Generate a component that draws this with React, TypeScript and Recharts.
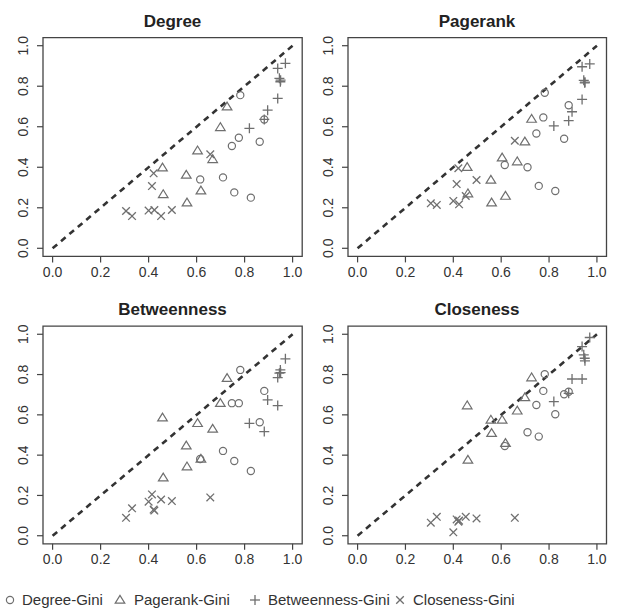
import React from 'react';
import { ScatterChart, Scatter, XAxis, YAxis, ReferenceLine, ReferenceArea } from 'recharts';

// shared x values (Gini) per series
const degreeX = [0.615, 0.710, 0.747, 0.757, 0.776, 0.782, 0.826, 0.863, 0.882];
const pagerankX = [0.458, 0.461, 0.557, 0.560, 0.604, 0.618, 0.667, 0.699, 0.727];
const betweenX = [0.820, 0.882, 0.896, 0.938, 0.938, 0.945, 0.949, 0.950, 0.970];
const closeX = [0.306, 0.331, 0.400, 0.414, 0.421, 0.424, 0.452, 0.497, 0.657];

// Degree panel
const degDegY = [0.340, 0.350, 0.505, 0.276, 0.546, 0.756, 0.250, 0.526, 0.636];
const degPrY = [0.398, 0.266, 0.362, 0.225, 0.482, 0.284, 0.439, 0.597, 0.699];
const degBtY = [0.592, 0.636, 0.682, 0.740, 0.888, 0.839, 0.822, 0.830, 0.913];
const degClY = [0.184, 0.159, 0.186, 0.307, 0.370, 0.189, 0.159, 0.189, 0.464];

// Pagerank panel
const prDegY = [0.411, 0.400, 0.567, 0.308, 0.646, 0.768, 0.283, 0.541, 0.706];
const prPrY = [0.400, 0.270, 0.337, 0.225, 0.447, 0.258, 0.428, 0.526, 0.638];
const prBtY = [0.604, 0.630, 0.674, 0.735, 0.896, 0.829, 0.817, 0.820, 0.910];
const prClY = [0.222, 0.214, 0.234, 0.317, 0.395, 0.217, 0.258, 0.337, 0.531];

// Betweenness panel
const btDegY = [0.381, 0.421, 0.658, 0.371, 0.658, 0.823, 0.321, 0.563, 0.719];
const btPrY = [0.586, 0.288, 0.447, 0.343, 0.558, 0.381, 0.530, 0.658, 0.782];
const btBtY = [0.558, 0.517, 0.674, 0.646, 0.785, 0.807, 0.823, 0.810, 0.878];
const btClY = [0.089, 0.136, 0.169, 0.205, 0.130, 0.125, 0.180, 0.172, 0.190];

// Closeness panel
const clDegY = [0.445, 0.514, 0.649, 0.492, 0.719, 0.802, 0.603, 0.702, 0.715];
const clPrY = [0.646, 0.376, 0.575, 0.509, 0.575, 0.459, 0.620, 0.686, 0.785];
const clBtY = [0.666, 0.707, 0.778, 0.778, 0.939, 0.898, 0.881, 0.868, 0.984];
const clClY = [0.065, 0.094, 0.017, 0.081, 0.070, 0.075, 0.094, 0.086, 0.089];

const ticks = [0, 0.2, 0.4, 0.6, 0.8, 1.0];
const legendLabels = ['Degree-Gini', 'Pagerank-Gini', 'Betweenness-Gini', 'Closeness-Gini'];

const FONT = '"Liberation Sans", Arial, Helvetica, sans-serif';
const GREY = '#6f6f6f';
const DARK = '#333333';
const AXIS = '#444444';

const zip = (xs: number[], ys: number[]) => xs.map((x, i) => ({ x, y: ys[i] }));

const CircleShape = (p: any) => (
  <circle cx={p.cx} cy={p.cy} r={3.6} fill="none" stroke={GREY} strokeWidth={1.2} />
);
const TriangleShape = (p: any) => {
  const { cx, cy } = p;
  return (
    <polygon
      points={`${cx},${cy - 4.6} ${cx - 4.8},${cy + 3.2} ${cx + 4.8},${cy + 3.2}`}
      fill="none"
      stroke={GREY}
      strokeWidth={1.2}
    />
  );
};
const PlusShape = (p: any) => {
  const { cx, cy } = p;
  const s = 5;
  return (
    <g stroke={GREY} strokeWidth={1.3}>
      <line x1={cx - s} y1={cy} x2={cx + s} y2={cy} />
      <line x1={cx} y1={cy - s} x2={cx} y2={cy + s} />
    </g>
  );
};
const CrossShape = (p: any) => {
  const { cx, cy } = p;
  const s = 3.8;
  return (
    <g stroke={GREY} strokeWidth={1.3}>
      <line x1={cx - s} y1={cy - s} x2={cx + s} y2={cy + s} />
      <line x1={cx - s} y1={cy + s} x2={cx + s} y2={cy - s} />
    </g>
  );
};

const XTick = (p: any) => (
  <text x={p.x} y={p.y} dy="0.9em" textAnchor="middle" fontSize={14} fill={DARK} fontFamily={FONT}>
    {Number(p.payload.value).toFixed(1)}
  </text>
);
const YTick = (p: any) => {
  const cx = p.x - 12.5;
  const cy = p.y;
  return (
    <text
      x={cx}
      y={cy}
      dy="0.36em"
      textAnchor="middle"
      fontSize={14}
      fill={DARK}
      fontFamily={FONT}
      transform={`rotate(-90, ${cx}, ${cy})`}
    >
      {Number(p.payload.value).toFixed(1)}
    </text>
  );
};

type PanelProps = {
  title: string;
  left: number;
  top: number;
  width: number;
  height: number;
  margin: { top: number; right: number; bottom: number; left: number };
  titleX: number;
  titleY: number;
  dY: number[];
  pY: number[];
  bY: number[];
  cY: number[];
};

const Panel = (pp: PanelProps) => (
  <>
    <div
      style={{
        position: 'absolute',
        left: pp.titleX - 100,
        top: pp.titleY - 11,
        width: 200,
        height: 22,
        lineHeight: '22px',
        textAlign: 'center',
        fontFamily: FONT,
        fontWeight: 'bold',
        fontSize: 17,
        color: '#222',
      }}
    >
      {pp.title}
    </div>
    <div style={{ position: 'absolute', left: pp.left, top: pp.top }}>
      <ScatterChart width={pp.width} height={pp.height} margin={pp.margin}>
        <XAxis
          type="number"
          dataKey="x"
          domain={[-0.04, 1.04]}
          ticks={ticks}
          interval={0}
          allowDataOverflow
          axisLine={false}
          tickLine={{ stroke: AXIS, strokeWidth: 1.2 }}
          tickSize={6}
          tickMargin={2}
          height={30}
          tick={<XTick />}
        />
        <YAxis
          type="number"
          dataKey="y"
          domain={[-0.04, 1.04]}
          ticks={ticks}
          interval={0}
          allowDataOverflow
          axisLine={false}
          tickLine={{ stroke: AXIS, strokeWidth: 1.2 }}
          tickSize={6}
          tickMargin={2}
          width={43}
          tick={<YTick />}
        />
        <ReferenceArea
          x1={-0.04}
          x2={1.04}
          y1={-0.04}
          y2={1.04}
          fill="none"
          stroke={AXIS}
          strokeWidth={1.3}
          ifOverflow="visible"
        />
        <ReferenceLine
          segment={[
            { x: 0, y: 0 },
            { x: 1, y: 1 },
          ]}
          stroke={DARK}
          strokeWidth={2.6}
          strokeDasharray="6 5"
          ifOverflow="visible"
        />
        <Scatter data={zip(degreeX, pp.dY)} shape={CircleShape} isAnimationActive={false} />
        <Scatter data={zip(pagerankX, pp.pY)} shape={TriangleShape} isAnimationActive={false} />
        <Scatter data={zip(betweenX, pp.bY)} shape={PlusShape} isAnimationActive={false} />
        <Scatter data={zip(closeX, pp.cY)} shape={CrossShape} isAnimationActive={false} />
      </ScatterChart>
    </div>
  </>
);

const Legend = () => {
  const cy = 600;
  const mk = [10, 120, 255, 400];
  const tx = [22, 134, 268, 413];
  return (
    <svg width={618} height={615} style={{ position: 'absolute', left: 0, top: 0, pointerEvents: 'none' }}>
      <CircleShape cx={mk[0]} cy={cy} />
      <TriangleShape cx={mk[1]} cy={cy} />
      <PlusShape cx={mk[2]} cy={cy} />
      <CrossShape cx={mk[3]} cy={cy} />
      {legendLabels.map((l, i) => (
        <text key={l} x={tx[i]} y={cy} dy="0.36em" fontSize={15} fill={DARK} fontFamily={FONT}>
          {l}
        </text>
      ))}
    </svg>
  );
};

export default function App() {
  const lw = 309;
  const rw = 313;
  const lm = { top: 37.6, right: 6.8, bottom: 3.6, left: 0 };
  const rm = { top: 37.6, right: 11.5, bottom: 3.6, left: 0 };
  const lmB = { top: 36.2, right: 6.8, bottom: 6.2, left: 0 };
  const rmB = { top: 36.2, right: 11.5, bottom: 6.2, left: 0 };
  return (
    <div
      style={{
        position: 'absolute',
        left: 0,
        top: 0,
        width: 618,
        height: 615,
        background: '#fff',
        overflow: 'hidden',
      }}
    >
      <Panel title="Degree" left={0} top={0} width={lw} height={290} margin={lm} titleX={172.5} titleY={22}
        dY={degDegY} pY={degPrY} bY={degBtY} cY={degClY} />
      <Panel title="Pagerank" left={305} top={0} width={rw} height={290} margin={rm} titleX={477} titleY={22}
        dY={prDegY} pY={prPrY} bY={prBtY} cY={prClY} />
      <Panel title="Betweenness" left={0} top={290} width={lw} height={290} margin={lmB} titleX={172.5} titleY={310}
        dY={btDegY} pY={btPrY} bY={btBtY} cY={btClY} />
      <Panel title="Closeness" left={305} top={290} width={rw} height={290} margin={rmB} titleX={477} titleY={310}
        dY={clDegY} pY={clPrY} bY={clBtY} cY={clClY} />
      <Legend />
    </div>
  );
}
